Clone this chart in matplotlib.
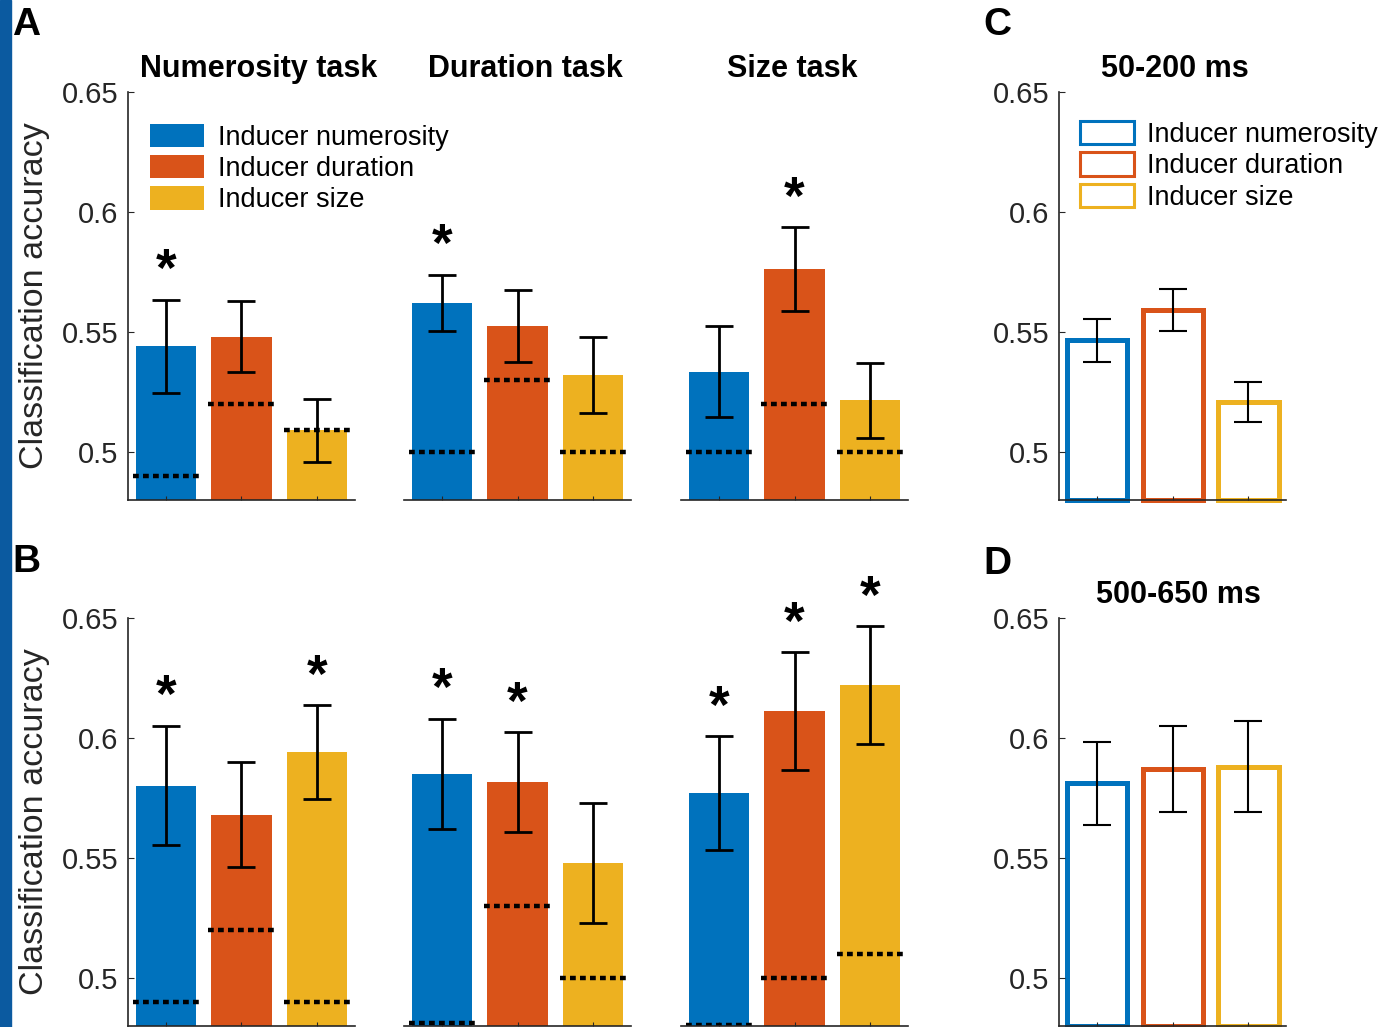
import matplotlib
matplotlib.use('Agg')
import matplotlib.pyplot as plt
from matplotlib.patches import Patch, Rectangle

plt.rcParams['font.family'] = ['Liberation Sans', 'DejaVu Sans']

# data
task_titles = ['Numerosity task', 'Duration task', 'Size task']
inducers = ['Inducer numerosity', 'Inducer duration', 'Inducer size']
colors = ['#0072BD', '#D95319', '#EDB120']

# panel A (one row per task, one value per inducer)
a_acc = [[0.544, 0.548, 0.509], [0.562, 0.5525, 0.532], [0.5335, 0.576, 0.5215]]
a_err = [[0.0193, 0.0149, 0.013], [0.0118, 0.0151, 0.0159], [0.0189, 0.0175, 0.0155]]
a_chance = [[0.49, 0.52, 0.509], [0.50, 0.53, 0.50], [0.50, 0.52, 0.50]]
a_sig = [[1, 0, 0], [1, 0, 0], [0, 1, 0]]

# panel B
b_acc = [[0.580, 0.568, 0.594], [0.585, 0.5815, 0.548], [0.577, 0.611, 0.622]]
b_err = [[0.0249, 0.0219, 0.0195], [0.023, 0.0207, 0.025], [0.0236, 0.0246, 0.0245]]
b_chance = [[0.49, 0.52, 0.49], [0.481, 0.53, 0.50], [0.4805, 0.50, 0.51]]
b_sig = [[1, 0, 1], [1, 1, 0], [1, 1, 1]]

# panels C and D
c_title = '50-200 ms'
c_acc = [0.5465, 0.5592, 0.5208]
c_err = [0.009, 0.0088, 0.0083]
d_title = '500-650 ms'
d_acc = [0.581, 0.587, 0.588]
d_err = [0.0172, 0.0178, 0.0188]

yticks = [0.5, 0.55, 0.6, 0.65]
ytick_labels = ['0.5', '0.55', '0.6', '0.65']
ylim = (0.48, 0.65)
xpos = [1, 2, 3]

W, H = 1384, 1027
fig = plt.figure(figsize=(W / 100, H / 100), dpi=100)


def px_axes(left, top, width, bottom):
    ax = fig.add_axes([left / W, 1 - bottom / H, width / W, (bottom - top) / H])
    ax.patch.set_visible(False)
    return ax


def style_axes(ax, show_y):
    ax.set_xlim(0.5, 3.5)
    ax.set_ylim(*ylim)
    for s in ['top', 'right']:
        ax.spines[s].set_visible(False)
    ax.spines['bottom'].set_color('#262626')
    ax.spines['bottom'].set_linewidth(1.2)
    ax.set_xticks(xpos)
    ax.set_xticklabels([])
    ax.tick_params(axis='x', direction='in', length=3, color='#262626')
    if show_y:
        ax.spines['left'].set_color('#262626')
        ax.spines['left'].set_linewidth(1.2)
        ax.set_yticks(yticks)
        ax.set_yticklabels(ytick_labels)
        ax.tick_params(axis='y', direction='in', length=4, pad=7,
                       labelsize=21, color='#262626', labelcolor='#262626')
    else:
        ax.spines['left'].set_visible(False)
        ax.set_yticks([])


def filled_panel(ax, acc, err, chance, sig):
    ax.bar(xpos, [a - ylim[0] for a in acc], bottom=ylim[0], width=0.8,
           color=colors, edgecolor='none')
    ax.errorbar(xpos, acc, yerr=err, fmt='none', ecolor='k',
                elinewidth=2, capsize=10, capthick=2)
    for x, c in zip(xpos, chance):
        ax.plot([x - 0.44, x + 0.44], [c, c], color='k', lw=3.2,
                ls=(0, (1.3, 0.95)))
    for x, a, e, s in zip(xpos, acc, err, sig):
        if s:
            ax.text(x, a + e + 0.0115, '*', ha='center', va='center',
                    fontsize=38, fontweight='bold')


def outline_panel(ax, acc, err):
    ax.bar(xpos, [a - ylim[0] for a in acc], bottom=ylim[0], width=0.8,
           color='white', edgecolor=colors, linewidth=3.6, clip_on=False)
    ax.errorbar(xpos, acc, yerr=err, fmt='none', ecolor='k',
                elinewidth=1.5, capsize=10, capthick=1.5)


col_lefts = [128, 404, 681]
row_bounds = [(91.7, 500), (617.7, 1025.7)]
rows = [(a_acc, a_err, a_chance, a_sig), (b_acc, b_err, b_chance, b_sig)]
legend_kw = dict(loc='upper left', frameon=False, fontsize=19.5, handlelength=2.0,
                 handleheight=0.95, handletextpad=0.5, labelspacing=0.16,
                 borderpad=0, borderaxespad=0)

for r, (acc, err, chance, sig) in enumerate(rows):
    top, bottom = row_bounds[r]
    for t in range(3):
        ax = px_axes(col_lefts[t], top, 227, bottom)
        filled_panel(ax, acc[t], err[t], chance[t], sig[t])
        style_axes(ax, t == 0)
        if r == 0 and t == 0:
            handles = [Patch(facecolor=c, edgecolor='none') for c in colors]
            leg = ax.legend(handles, inducers, bbox_to_anchor=(0.097, 0.922), **legend_kw)
            leg.set_zorder(10)
    fig.text(35 / W, 1 - (top + bottom) / 2 / H, 'Classification accuracy',
             rotation=90, ha='center', va='center', fontsize=24.5, color='#262626')

# task titles (top row)
for name, cx in zip(task_titles, [259, 525, 792]):
    fig.text(cx / W, 1 - 69 / H, name, ha='center', va='center',
             fontsize=22, fontweight='bold')

axc = px_axes(1059.3, 91.7, 227, 500)
outline_panel(axc, c_acc, c_err)
style_axes(axc, True)
handles = [Patch(facecolor='white', edgecolor=c, linewidth=2.2) for c in colors]
axc.legend(handles, inducers, bbox_to_anchor=(0.09, 0.928), **legend_kw)
fig.text(1175 / W, 1 - 69 / H, c_title, ha='center', va='center',
         fontsize=22, fontweight='bold')

axd = px_axes(1059.3, 617.7, 227, 1025.7)
outline_panel(axd, d_acc, d_err)
style_axes(axd, True)
fig.text(1178 / W, 1 - 595 / H, d_title, ha='center', va='center',
         fontsize=22, fontweight='bold')

# panel letters
for letter, x, y in [('A', 12, 25), ('B', 12, 562), ('C', 983, 25), ('D', 983, 564)]:
    fig.text(x / W, 1 - y / H, letter, ha='left', va='center',
             fontsize=28, fontweight='bold')

# blue strip on the left edge
fig.patches.append(Rectangle((0, 0), 11 / W, 1, transform=fig.transFigure,
                             color='#0b5aa0', zorder=0))

fig.savefig('out.png', dpi=100)
